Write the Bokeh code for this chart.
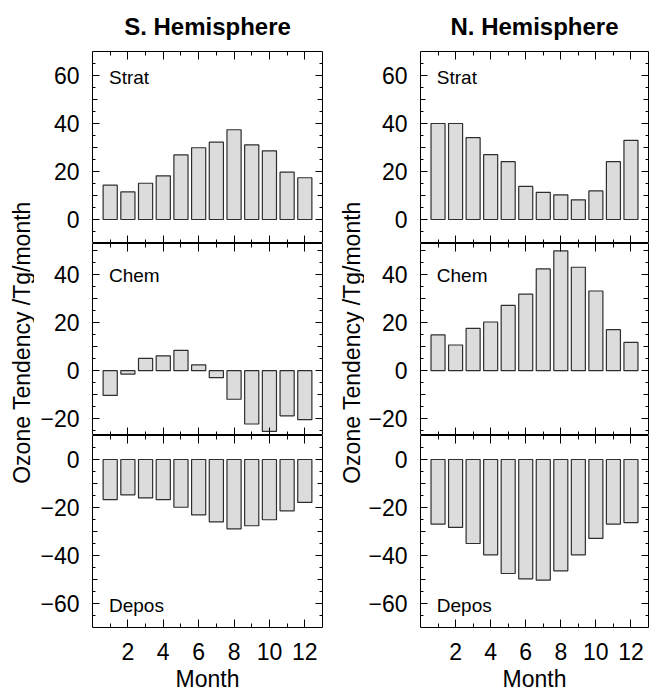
import math
from bokeh.plotting import figure
from bokeh.models import Range1d, LinearAxis, FixedTicker, CustomJSTickFormatter, Label
from bokeh.layouts import row, column
from bokeh.embed import file_html
from bokeh.resources import INLINE

# ---------------- data ----------------
months = list(range(1, 13))
s_strat = [14.3, 11.5, 15.1, 18.2, 26.9, 29.9, 32.2, 37.4, 31.1, 28.6, 19.7, 17.4]
s_chem = [-10.3, -1.4, 5.1, 6.2, 8.5, 2.4, -2.9, -11.9, -22.2, -25.3, -18.8, -20.4]
s_depos = [-16.7, -14.7, -16.0, -16.7, -19.9, -23.1, -26.0, -28.9, -27.6, -25.1, -21.4, -17.9]
n_strat = [40.0, 40.0, 34.1, 27.0, 24.1, 13.8, 11.3, 10.3, 8.2, 11.9, 24.1, 33.0]
n_chem = [14.9, 10.7, 17.6, 20.3, 27.2, 31.9, 42.4, 49.9, 43.1, 33.2, 17.1, 11.8]
n_depos = [-26.9, -28.3, -35.0, -39.7, -47.5, -49.7, -50.3, -46.4, -39.7, -32.9, -26.9, -26.3]

hemispheres = ["S. Hemisphere", "N. Hemisphere"]
panel_names = ["Strat", "Chem", "Depos"]
y_limits = [(-10, 70), (-27, 53), (-70, 10)]
y_tick_labels = [[0, 20, 40, 60], [-20, 0, 20, 40], [-60, -40, -20, 0]]
x_tick_labels = [2, 4, 6, 8, 10, 12]
y_title = "Ozone Tendency /Tg/month"
x_title = "Month"

FONT = "Liberation Sans"
TICK_FMT = "return tick < 0 ? '\u2212' + Math.abs(tick) : String(tick);"
BLANK_FMT = "return '';"

TOP_BORDER = 51
BORDER_L = [58, 56]
BORDER_R = [8, 1]
FRAME_W = [230, 228]


def style_axis(ax, major_in, minor_in):
    ax.axis_line_color = None
    ax.major_tick_in = major_in
    ax.major_tick_out = 0
    ax.minor_tick_in = minor_in
    ax.minor_tick_out = 0
    ax.major_tick_line_color = "black"
    ax.minor_tick_line_color = "black"
    ax.major_label_text_font = FONT
    ax.major_label_text_font_size = "23px"
    ax.major_label_text_color = "black"
    ax.axis_label_text_font = FONT
    ax.axis_label_text_font_size = "23px"
    ax.axis_label_text_font_style = "normal"
    ax.axis_label_text_color = "black"


def make_panel(values, r, c):
    y0, y1 = y_limits[r]
    p = figure(frame_width=FRAME_W[c], frame_height=192,
               x_range=Range1d(0, 13), y_range=Range1d(y0, y1),
               output_backend="svg", toolbar_location=None,
               x_axis_type=None, y_axis_type=None,
               min_border_left=BORDER_L[c], min_border_right=BORDER_R[c],
               min_border_top=TOP_BORDER if r == 0 else 0, min_border_bottom=0)
    p.outline_line_color = "black"
    p.outline_line_width = 1
    p.background_fill_color = "white"
    p.border_fill_color = "white"

    p.vbar(x=months, top=values, bottom=0, width=0.8,
           fill_color="#dcdcdc", line_color="#2e2e2e", line_width=1.2)

    # y ticks
    labeled = y_tick_labels[r]
    minor5 = [v for v in range(-100, 101, 5) if y0 < v < y1 and v % 10 != 0]
    mid10 = [v for v in range(-100, 101, 10) if y0 < v < y1 and v % 20 != 0]

    yl = LinearAxis(ticker=FixedTicker(ticks=labeled, minor_ticks=minor5),
                    formatter=CustomJSTickFormatter(code=TICK_FMT),
                    major_label_standoff=13)
    style_axis(yl, 7, 3)
    p.add_layout(yl, "left")

    yr = LinearAxis(ticker=FixedTicker(ticks=labeled, minor_ticks=minor5),
                    formatter=CustomJSTickFormatter(code=BLANK_FMT), fixed_location=13)
    style_axis(yr, 7, 3)
    p.add_layout(yr, "right")

    for loc, side in ((0, "left"), (13, "right")):
        ym = LinearAxis(ticker=FixedTicker(ticks=mid10, minor_ticks=[]),
                        formatter=CustomJSTickFormatter(code=BLANK_FMT), fixed_location=loc)
        style_axis(ym, 5, 0)
        p.add_layout(ym, side)

    # x ticks
    xt = LinearAxis(ticker=FixedTicker(ticks=x_tick_labels, minor_ticks=months),
                    formatter=CustomJSTickFormatter(code=BLANK_FMT), fixed_location=y1)
    style_axis(xt, 8, 4)
    p.add_layout(xt, "above")

    if r == 2:
        xb = LinearAxis(ticker=FixedTicker(ticks=x_tick_labels, minor_ticks=months),
                        formatter=CustomJSTickFormatter(code=TICK_FMT),
                        axis_label=x_title, major_label_standoff=15, axis_label_standoff=3)
    else:
        xb = LinearAxis(ticker=FixedTicker(ticks=x_tick_labels, minor_ticks=months),
                        formatter=CustomJSTickFormatter(code=BLANK_FMT), fixed_location=y0)
    style_axis(xb, 8, 4)
    p.add_layout(xb, "below")

    label_y = {0: 59, 1: 39.5, 2: -61}[r]
    p.add_layout(Label(x=0.93, y=label_y, text=panel_names[r], text_font=FONT,
                       text_font_size="19px", text_baseline="middle", text_color="black"))

    if r == 0:
        p.title.text = hemispheres[c]
        p.title.align = "center"
        p.title.vertical_align = "top"
        p.title.standoff = 20
        p.title.text_font = FONT
        p.title.text_font_size = "24px"
        p.title.text_font_style = "bold"
        p.title.text_color = "black"
    return p


def make_label_fig():
    p = figure(width=34, height=693, x_range=Range1d(0, 34), y_range=Range1d(0, 693),
               output_backend="svg", toolbar_location=None,
               x_axis_type=None, y_axis_type=None, min_border=0)
    p.outline_line_color = None
    p.border_fill_color = "white"
    p.add_layout(Label(x=21, y=351, text=y_title, angle=math.pi / 2,
                       text_align="center", text_baseline="middle",
                       text_font=FONT, text_font_size="23px", text_color="black"))
    return p


left_col = column(make_panel(s_strat, 0, 0), make_panel(s_chem, 1, 0), make_panel(s_depos, 2, 0))
right_col = column(make_panel(n_strat, 0, 1), make_panel(n_chem, 1, 1), make_panel(n_depos, 2, 1))
layout = row(make_label_fig(), left_col, make_label_fig(), right_col)

with open("out.html", "w", encoding="utf-8") as f:
    f.write(file_html(layout, INLINE))
